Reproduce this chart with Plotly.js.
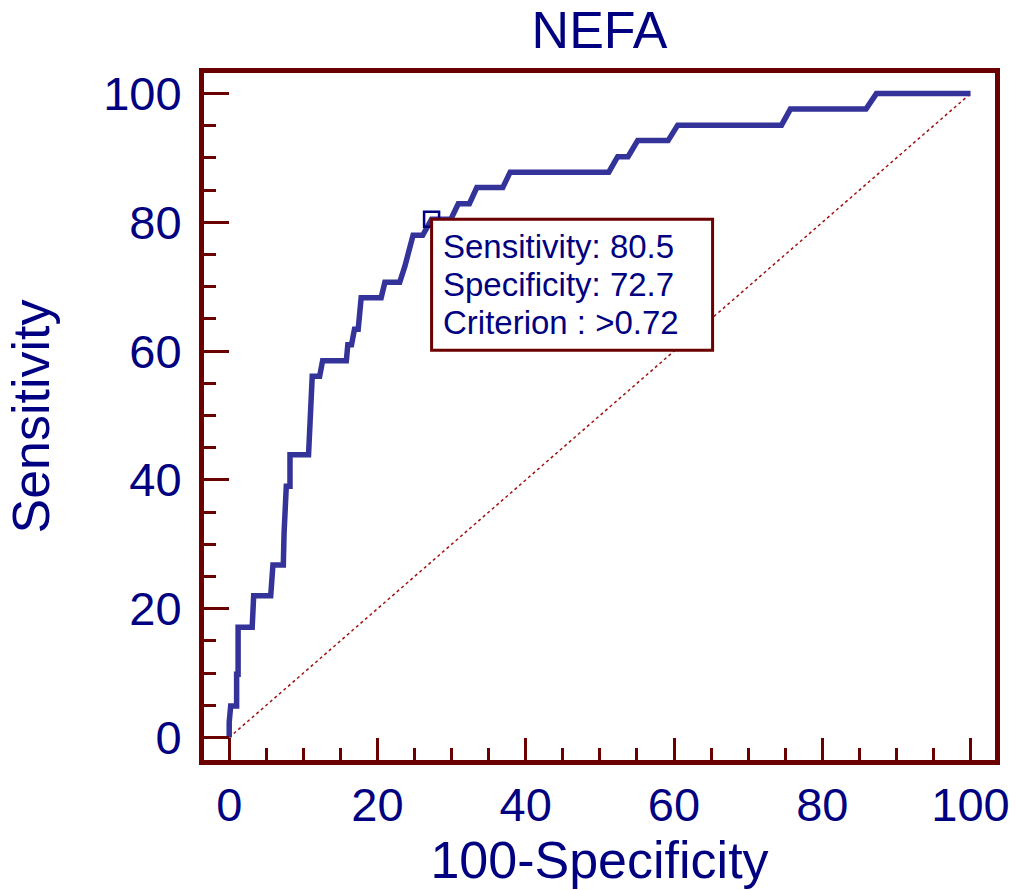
<!DOCTYPE html>
<html>
<head>
<meta charset="utf-8">
<script src="https://cdn.plot.ly/plotly-3.0.1.min.js"></script>
<style>html,body{margin:0;padding:0;background:#fff;}#chart{width:1016px;height:890px;}</style>
</head>
<body>
<div id="chart"></div>
<script>
// 100-Specificity (false positive rate, %)
var fpr = [0, 0, 0.2, 1.0, 1.0, 1.2, 1.2, 3.1, 3.3, 5.6, 5.9, 7.3, 7.4, 7.7, 8.2, 8.2, 10.7, 10.9, 11.2, 12.2,
           12.6, 15.8, 16.0, 16.5, 16.9, 17.4, 17.8, 20.5, 21.0, 23.0, 23.7, 24.8, 26.1, 27.3, 29.9, 30.9,
           32.4, 33.4, 36.9, 37.9, 51.2, 52.4, 53.8, 55.1, 59.2, 60.5, 74.5, 75.7, 85.9, 87.3, 100];
// Sensitivity (%)
var sens = [0, 2.4, 4.9, 4.9, 9.8, 9.8, 17.1, 17.1, 22.0, 22.0, 26.8, 26.8, 31.7, 39.0, 39.0, 43.9, 43.9, 51.2, 56.1, 56.1,
            58.5, 58.5, 61.0, 61.0, 63.4, 63.4, 68.3, 68.3, 70.7, 70.7, 73.2, 78.0, 78.0, 80.5, 80.5, 82.9,
            82.9, 85.4, 85.4, 87.8, 87.8, 90.2, 90.2, 92.7, 92.7, 95.1, 95.1, 97.6, 97.6, 100, 100];
// reference (chance) line
var diagX = [0, 100];
var diagY = [0, 100];
// optimal criterion point
var critX = [27.3];
var critY = [80.5];
var critLabels = ["Sensitivity: 80.5", "Specificity: 72.7", "Criterion : >0.72"];
var tickVals = [0, 20, 40, 60, 80, 100];

var frame = '#6b0000';
var navy = '#000080';
var font = 'Liberation Sans, Arial, sans-serif';

var traces = [
  {x: diagX, y: diagY, mode: 'lines', line: {color: '#a01010', width: 1.5, dash: 'dot'}, hoverinfo: 'skip'},
  {x: fpr, y: sens, mode: 'lines', line: {color: '#333399', width: 5.5}},
  {x: critX, y: critY, mode: 'markers', marker: {symbol: 'square-open', size: 15, color: navy, line: {width: 2.5, color: navy}}}
];

var axisCommon = {
  showline: true, mirror: true, linecolor: frame, linewidth: 5,
  showgrid: false, zeroline: false,
  ticks: 'inside', tickcolor: frame, tickwidth: 3,
  tickvals: tickVals,
  tickfont: {family: font, size: 47, color: navy},
  minor: {dtick: 5, tick0: 0, ticks: 'inside', ticklen: 12, tickwidth: 3, tickcolor: frame, showgrid: false},
  fixedrange: true
};

var annots = critLabels.map(function (t, i) {
  return {
    x: critX[0], y: critY[0], xref: 'x', yref: 'y',
    xanchor: 'left', yanchor: 'middle', align: 'left', showarrow: false,
    xshift: 9, yshift: -27 - 38 * i,
    text: t, font: {family: font, size: 33, color: navy}
  };
});

var layout = {
  width: 1016, height: 890,
  margin: {l: 204, r: 21, t: 73, b: 130},
  paper_bgcolor: '#fff', plot_bgcolor: '#fff',
  showlegend: false,
  title: {text: 'NEFA', font: {family: font, size: 52, color: navy}, x: 0.5, xref: 'paper', xanchor: 'center', y: 0.966, yanchor: 'middle'},
  xaxis: Object.assign({}, axisCommon, {
    range: [-3.4, 103.3], ticklen: 22,
    ticklabelstandoff: 0,
    title: {text: '100-Specificity', font: {family: font, size: 52, color: navy}, standoff: 10}
  }),
  yaxis: Object.assign({}, axisCommon, {
    range: [-3.5, 103.2], ticklen: 25,
    ticklabelstandoff: 8,
    title: {text: 'Sensitivity', font: {family: font, size: 52, color: navy}, standoff: 38}
  }),
  shapes: [{
    type: 'rect', layer: 'above',
    xref: 'x', yref: 'y', xsizemode: 'pixel', ysizemode: 'pixel',
    xanchor: critX[0], yanchor: critY[0],
    x0: 0, x1: 281, y0: 0, y1: -131,
    fillcolor: '#fff', line: {color: frame, width: 3}
  }],
  annotations: annots
};

Plotly.newPlot('chart', traces, layout, {displayModeBar: false, staticPlot: true});
</script>
</body>
</html>
